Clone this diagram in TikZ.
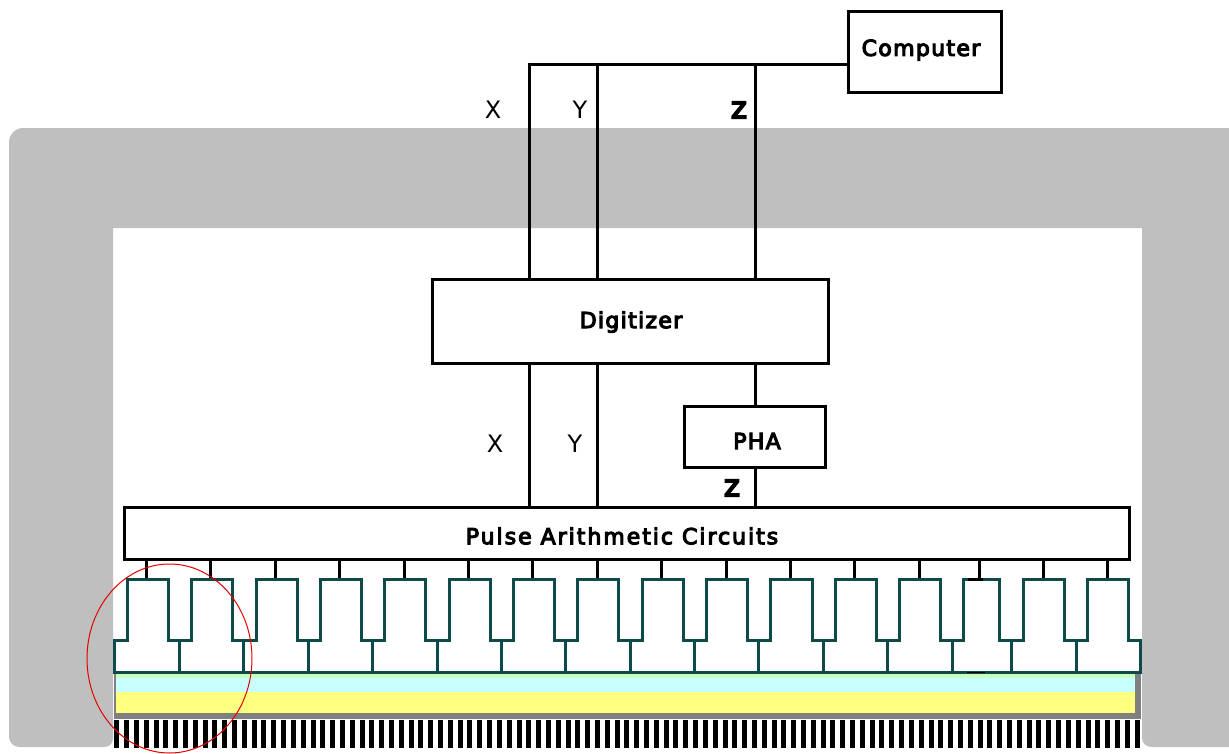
\documentclass[tikz,border=0pt]{standalone}
\usepackage{fontspec}
\setmainfont{DejaVu Sans}
\newfontfamily\lblfont[LetterSpace=6,FakeBold=5]{DejaVu Sans}
\newfontfamily\widefont[LetterSpace=9,FakeBold=5]{DejaVu Sans}
\newfontfamily\axfont{DejaVu Sans}
\newfontfamily\zfont[FakeBold=10]{DejaVu Sans}
\definecolor{frame}{HTML}{BFBFBF}
\definecolor{tube}{HTML}{0F4A4A}
\definecolor{edge}{HTML}{808080}
\definecolor{lgreen}{HTML}{C8FFC0}
\definecolor{lcyan}{HTML}{C8FFFF}
\definecolor{lyellow}{HTML}{FFFF80}
\tikzset{
 box/.style={draw=black,line width=3pt,fill=white,inner sep=0pt,outer sep=0pt,anchor=north west},
 boxtext/.style={inner sep=0pt,font=\fontsize{22}{24}\lblfont},
 conn/.style={draw=black,line width=3pt},
 tubeline/.style={draw=tube,line width=3pt,line join=miter},
 axis/.style={inner sep=0pt,font=\fontsize{24}{26}\axfont},
 axisz/.style={inner sep=0pt,font=\fontsize{22}{24}\zfont},
}
\begin{document}
\begin{tikzpicture}[x=1pt,y=-1pt]
\useasboundingbox (0,0) rectangle (1229,753);
\fill[white] (0,0) rectangle (1229,753);
% shield
\fill[frame] (1229,128) -- (23,128) arc[start angle=90,end angle=180,x radius=14,y radius=-14] -- (9,735)
  .. controls (9,743) and (13,747) .. (21,747) -- (104,747) .. controls (110,747) and (113,743) .. (113,738)
  -- (113,228) -- (1142,228) -- (1142,738) .. controls (1142,743) and (1146,747) .. (1152,747) -- (1229,747) -- cycle;
% crystal layers
\fill[edge] (114,672) rectangle (1141,719);
\fill[lgreen] (116,672) rectangle (1135,678);
\fill[lcyan] (116,678) rectangle (1135,692);
\fill[lyellow] (116,692) rectangle (1135,713);
% collimator
\foreach \k in {0,...,104} \fill[black] ({114.3+9.81*\k},720) rectangle ++(5,28);
% boxes
\node[box,minimum width=153pt,minimum height=81pt] (computer) at (848,11) {};
\node[boxtext] (computertext) at (921,50) {Computer};
\node[box,minimum width=396pt,minimum height=84pt] (digitizer) at (432,279) {};
\node[boxtext] (digitizertext) at (631,322) {Digitizer};
\node[box,minimum width=141pt,minimum height=61pt] (pha) at (684,406) {};
\node[boxtext] (phatext) at (757,441) {PHA};
\node[box,minimum width=1005pt,minimum height=52pt] (pulse) at (124,507) {};
\node[boxtext,font=\fontsize{22}{24}\widefont] (pulsetext) at (622,536) {Pulse Arithmetic Circuits};
% upper wires
\coordinate (bus) at (529,64);
\coordinate (ytop) at (597,64);
\coordinate (ztop) at (755,64);
\draw[conn] (bus |- digitizer.north) -- (bus) -- (bus -| computer.west);
\draw[conn] (ytop |- digitizer.north) -- (ytop);
\draw[conn] (ztop |- digitizer.north) -- (ztop);
% lower wires
\draw[conn] (bus |- digitizer.south) -- (bus |- pulse.north);
\draw[conn] (ytop |- digitizer.south) -- (ytop |- pulse.north);
\draw[conn] (ztop |- digitizer.south) -- (ztop |- pha.north);
\draw[conn] (ztop |- pha.south) -- (ztop |- pulse.north);
% labels
\node[axis] (xa) at (493,110) {X};
\node[axis] (ya) at (580,110) {Y};
\node[axisz] (za) at (739,110) {Z};
\node[axis] (xb) at (495,444) {X};
\node[axis] (yb) at (575,444) {Y};
\node[axisz] (zb) at (732,488) {Z};
% tube taps
\foreach \x in {146,210,275,339,404,468,532,597,661,726,790,854,919,979,1043,1107}{
  \coordinate (tap) at (\x,579);
  \draw[conn] (tap |- pulse.south) -- (tap);
}
% tubes
\draw[tubeline] (114,672) -- (114,640) -- (127,640) -- (127,579) -- (168,579) -- (168,640)
 -- (191,640) -- (191,579) -- (232,579) -- (232,640)
 -- (256,640) -- (256,579) -- (297,579) -- (297,640)
 -- (320,640) -- (320,579) -- (361,579) -- (361,640)
 -- (384,640) -- (384,579) -- (425,579) -- (425,640)
 -- (449,640) -- (449,579) -- (490,579) -- (490,640)
 -- (513,640) -- (513,579) -- (554,579) -- (554,640)
 -- (577,640) -- (577,579) -- (618,579) -- (618,640)
 -- (642,640) -- (642,579) -- (683,579) -- (683,640)
 -- (706,640) -- (706,579) -- (747,579) -- (747,640)
 -- (770,640) -- (770,579) -- (812,579) -- (812,640)
 -- (835,640) -- (835,579) -- (876,579) -- (876,640)
 -- (899,640) -- (899,579) -- (940,579) -- (940,640)
 -- (963,640) -- (963,579) -- (999,579) -- (999,640)
 -- (1023,640) -- (1023,579) -- (1064,579) -- (1064,640)
 -- (1087,640) -- (1087,579) -- (1128,579) -- (1128,640)
 -- (1140,640) -- (1140,672) -- cycle;
\foreach \x in {179,243,308,372,437,501,565,630,694,758,823,887,952,1011,1076}
  \draw[tubeline] (\x,640) -- (\x,672);
\fill[black] (968,578) rectangle (983,580.5);
\fill[black] (967,671.5) rectangle (985,673);
% red circle
\draw[red!90!black,line width=1pt] (169.5,658.5) ellipse[x radius=82.5,y radius=94.5];
\end{tikzpicture}
\end{document}
